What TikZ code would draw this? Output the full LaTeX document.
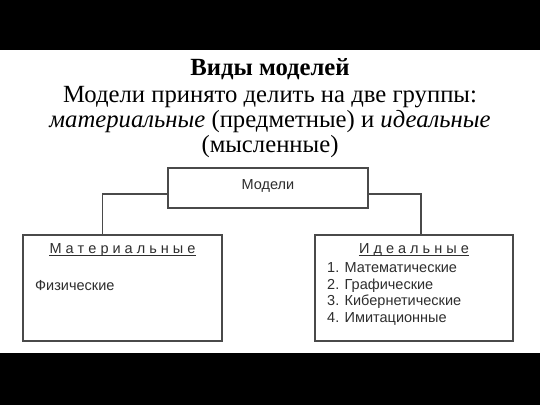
\documentclass[tikz,border=0pt]{standalone}
\usepackage{fontspec}
\setmainfont{Liberation Serif}
\newfontfamily\boxfont{Liberation Sans}
\usetikzlibrary{positioning}

\definecolor{linegray}{HTML}{4A4A4A}
\definecolor{textgray}{HTML}{2E2E2E}

\begin{document}
\begin{tikzpicture}[x=1pt,y=-1pt,
						frame/.style={draw=linegray, line width=1.1pt},
						link/.style={draw=linegray, line width=1.1pt},
						label/.style={font=\boxfont\fontsize{14.5}{16.6}\selectfont, text=textgray, inner sep=0pt},
						head/.style={label, anchor=base},
						underl/.style={draw=textgray, line width=0.8pt}]

						%%% Page
						\fill[black] (0,0) rectangle (540,405);
						\fill[white] (0,50) rectangle (540,353);

						%%% Heading
						\node at (270,69) [font=\fontsize{24.7}{26}\selectfont\bfseries] (title) {Виды моделей};
						\node at (270,122) [align=center, font=\fontsize{24.7}{25}\selectfont, inner sep=0pt]
							(intro) {Модели принято делить на две группы:\\
							\textit{материальные} (предметные) и \textit{идеальные}\\
							(мысленные)};

						%%% Boxes
						\node at (268,188) [frame, minimum width=200, minimum height=40] (model) {};
						\node at (268,186) [label] (modeltext) {Модели};
						\node at (122.5,288) [frame, minimum width=199, minimum height=106] (mat) {};
						\node at (414,288) [frame, minimum width=198, minimum height=106] (ideal) {};

						%% Material box
						\node at ([yshift=-19pt]mat.north) [head] (mathead) {М~а~т~е~р~и~а~л~ь~н~ы~е};
						\draw [underl] ([yshift=-2pt]mathead.base west) -- ([yshift=-2pt]mathead.base east);
						\node at (35,286) [label, anchor=west] (phys) {Физические};

						%% Ideal box
						\node at ([yshift=-19pt]ideal.north) [head] (idealhead) {И~д~е~а~л~ь~н~ы~е};
						\draw [underl] ([yshift=-2pt]idealhead.base west) -- ([yshift=-2pt]idealhead.base east);
						\node at (327,294) [label, anchor=west, align=left] (ideallist) {1. Математические\\
							2. Графические\\
							3. Кибернетические\\
							4. Имитационные};

						%%% Connections
						\draw [link] ([yshift=-6pt]model.west) -| ([xshift=-20pt]mat.north);
						\draw [link] ([yshift=-6pt]model.east) -| ([xshift=7pt]ideal.north);
					\end{tikzpicture}
\end{document}
